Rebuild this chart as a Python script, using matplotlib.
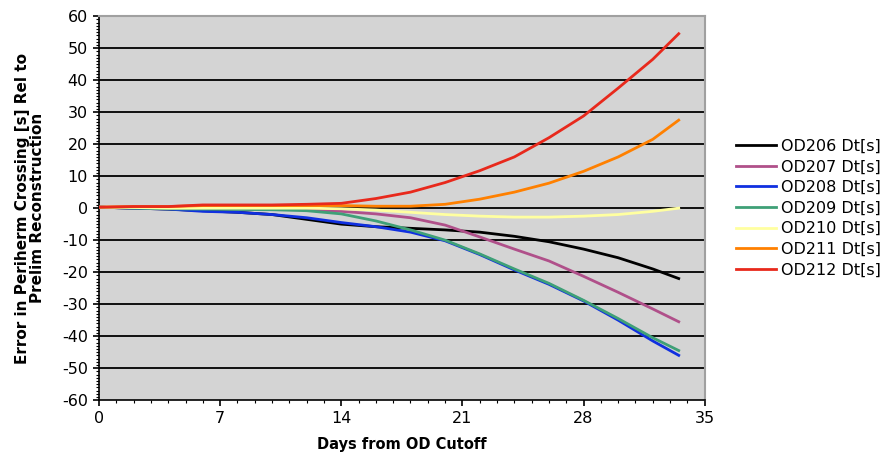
import numpy as np
import matplotlib.pyplot as plt
from matplotlib.ticker import MultipleLocator

plt.rcParams['axes.unicode_minus'] = False

# Days from OD cutoff
days = [0, 2, 4, 6, 8, 10, 12, 14, 16, 18, 20, 22, 24, 26, 28, 30, 32, 33.5]

od206 = [0.3, 0.0, -0.3, -0.8, -1.3, -2.0, -3.5, -5.0, -5.8, -6.3, -6.8, -7.5, -8.8, -10.5, -12.8, -15.5, -19.0, -22.0]
od207 = [0.3, 0.0, 0.0, -0.2, -0.3, -0.4, -0.5, -1.0, -1.8, -3.0, -5.3, -9.0, -12.8, -16.5, -21.3, -26.3, -31.5, -35.5]
od208 = [0.3, 0.0, -0.3, -1.0, -1.3, -2.0, -3.0, -4.5, -5.8, -7.5, -10.2, -14.5, -19.3, -23.8, -29.0, -35.0, -41.5, -46.0]
od209 = [0.3, 0.0, -0.2, -0.3, -0.4, -0.5, -0.8, -1.8, -4.0, -6.8, -10.0, -14.3, -19.0, -23.5, -28.8, -34.5, -40.5, -44.5]
od210 = [0.3, 0.2, 0.0, 0.0, 0.0, 0.0, 0.0, -0.2, -0.6, -1.3, -2.0, -2.5, -2.8, -2.8, -2.5, -2.0, -1.0, 0.0]
od211 = [0.3, 0.5, 0.5, 0.8, 0.8, 0.8, 0.8, 0.8, 0.6, 0.6, 1.2, 2.8, 5.0, 7.8, 11.5, 16.0, 21.5, 27.5]
od212 = [0.3, 0.5, 0.5, 1.0, 1.0, 1.0, 1.2, 1.5, 3.0, 5.0, 8.0, 11.7, 16.0, 22.0, 28.8, 37.5, 46.5, 54.5]

labels = ['OD206 Dt[s]', 'OD207 Dt[s]', 'OD208 Dt[s]', 'OD209 Dt[s]',
          'OD210 Dt[s]', 'OD211 Dt[s]', 'OD212 Dt[s]']
colors = ['#000000', '#b0508a', '#1030e0', '#3fa077', '#ffffa0', '#ff8000', '#e8291c']
series = [od206, od207, od208, od209, od210, od211, od212]

fig = plt.figure(figsize=(8.92, 4.61), dpi=100)
ax = fig.add_axes([0.111, 0.132, 0.679, 0.833])
ax.set_facecolor('#d4d4d4')

# horizontal grid lines at every 10
for yv in range(-50, 60, 10):
    ax.axhline(yv, color='black', linewidth=1.3, zorder=1)

for vals, lab, col in zip(series, labels, colors):
    ax.plot(days, vals, color=col, linewidth=2.0, label=lab, zorder=3)

ax.set_xlim(0, 35)
ax.set_ylim(-60, 60)
ax.xaxis.set_major_locator(MultipleLocator(7))
ax.xaxis.set_minor_locator(MultipleLocator(1))
ax.yaxis.set_major_locator(MultipleLocator(10))
ax.yaxis.set_minor_locator(MultipleLocator(1))
ax.tick_params(which='major', direction='out', length=4, width=1.2, labelsize=11.5, pad=4)
ax.tick_params(which='minor', direction='out', length=2.5, width=0.8)

for s in ['top', 'right']:
    ax.spines[s].set_color('#a0a0a0')
    ax.spines[s].set_linewidth(1.5)
for s in ['left', 'bottom']:
    ax.spines[s].set_color('black')
    ax.spines[s].set_linewidth(1.2)

ax.set_xlabel('Days from OD Cutoff', fontsize=10.5, fontweight='bold', labelpad=8)
ax.set_ylabel('Error in Periherm Crossing [s] Rel to\nPrelim Reconstruction',
              fontsize=11, fontweight='bold', labelpad=12, linespacing=1.05)

leg = ax.legend(loc='center left', bbox_to_anchor=(1.028, 0.5), frameon=False,
                fontsize=11.5, handlelength=2.5, labelspacing=0.35, handletextpad=0.3)

fig.savefig('out.png', dpi=100)
